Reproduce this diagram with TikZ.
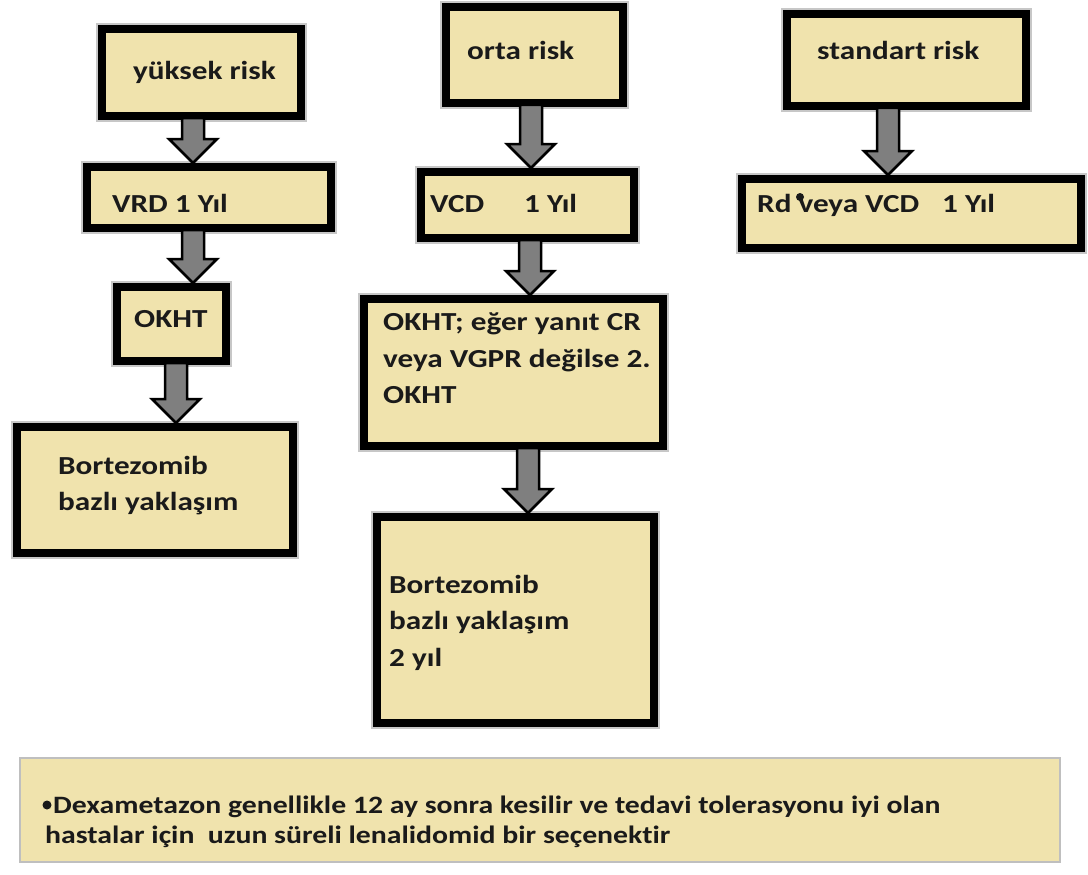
\documentclass[tikz,border=0pt]{standalone}
\usepackage{fontspec}
\usepackage{graphicx}
\setmainfont{Carlito}[Ligatures=NoCommon]
\usetikzlibrary{calc}
\definecolor{boxfill}{HTML}{F0E3AD}
\definecolor{notefill}{HTML}{F0E3AD}
\definecolor{arrowgray}{HTML}{7F7F7F}
\definecolor{txtcol}{HTML}{1A1A1A}
\newcommand{\sxtxt}[1]{\scalebox{1.2}[1]{#1}}
\newcommand{\blockarrow}[3]{%
  \draw[barrow] let \p1=(#1.south -| #3), \p2=(#2.north -| #3) in
    (\x1-11pt,\y1+2pt) -- (\x1+11pt,\y1+2pt) -- (\x1+11pt,\y2+24pt) -- (\x1+24pt,\y2+24pt)
    -- (\x1,\y2) -- (\x1-24pt,\y2+24pt) -- (\x1-11pt,\y2+24pt) -- cycle;}
\tikzset{
  box/.style={draw=black, line width=8pt, fill=boxfill, inner sep=0pt,
    preaction={draw=black!22, line width=12pt}},
  lbl/.style={anchor=base west, inner sep=0pt, text=txtcol,
    font=\bfseries\fontsize{26}{36}\selectfont},
  note/.style={anchor=base west, inner sep=0pt, text=txtcol,
    font=\bfseries\fontsize{25}{30}\selectfont},
  barrow/.style={draw=black, line width=2.5pt, fill=arrowgray, line join=miter},
  notebox/.style={draw=black!25, line width=2pt, fill=notefill, inner sep=0pt},
  dotmark/.style={circle, fill=txtcol, inner sep=0pt, minimum size=8pt}
}
\begin{document}
\begin{tikzpicture}[x=1pt,y=-1pt]
\useasboundingbox (0,0) rectangle (1088,875);
\fill[white] (0,0) rectangle (1088,875);

% left column
\node[box, minimum width=199pt, minimum height=87pt] (b1) at (201.5,72.5) {};
\node[box, minimum width=244pt, minimum height=61pt] (b2) at (209,197.5) {};
\node[box, minimum width=109pt, minimum height=74pt] (b3) at (171.5,324) {};
\node[box, minimum width=276pt, minimum height=126pt] (b4) at (155,490) {};
% middle column
\node[box, minimum width=177pt, minimum height=96pt] (m1) at (534.5,55) {};
\node[box, minimum width=213pt, minimum height=66pt] (m2) at (527.5,205) {};
\node[box, minimum width=299pt, minimum height=147pt] (m3) at (513.5,372.5) {};
\node[box, minimum width=277pt, minimum height=206pt] (m4) at (515.5,620) {};
% right column
\node[box, minimum width=239pt, minimum height=92pt] (r1) at (906.5,60) {};
\node[box, minimum width=339pt, minimum height=69pt] (r2) at (911.5,213.5) {};
% note box
\node[notebox, minimum width=1040pt, minimum height=104pt] (nb) at (540,810) {};

% arrow x positions
\coordinate (xa) at (193,0);
\coordinate (xb) at (176,0);
\coordinate (xm1) at (531,0);
\coordinate (xm2) at (530,0);
\coordinate (xm3) at (528,0);
\coordinate (xr) at (888,0);

\blockarrow{b1}{b2}{xa}
\blockarrow{b2}{b3}{xa}
\blockarrow{b3}{b4}{xb}
\blockarrow{m1}{m2}{xm1}
\blockarrow{m2}{m3}{xm2}
\blockarrow{m3}{m4}{xm3}
\blockarrow{r1}{r2}{xr}

% texts
\node[lbl] (t1) at (133,80) {\sxtxt{yüksek risk}};
\node[lbl] (t2) at (112,212) {\sxtxt{VRD 1 Yıl}};
\node[lbl] (t3) at (134,327) {\sxtxt{OKHT}};
\node[lbl] (t4a) at (58,474) {\sxtxt{Bortezomib}};
\node[lbl] (t4b) at (58,510) {\sxtxt{bazlı yaklaşım}};

\node[lbl] (u1) at (467,60) {\sxtxt{orta risk}};
\node[lbl] (u2a) at (430,212) {\sxtxt{VCD}};
\node[lbl] (u2b) at (524,212) {\sxtxt{1 Yıl}};
\node[lbl] (u3a) at (383,330) {\sxtxt{OKHT; eğer yanıt CR}};
\node[lbl] (u3b) at (383,367) {\sxtxt{veya VGPR değilse 2.}};
\node[lbl] (u3c) at (383,403) {\sxtxt{OKHT}};
\node[lbl] (u4a) at (389,593) {\sxtxt{Bortezomib}};
\node[lbl] (u4b) at (389,629) {\sxtxt{bazlı yaklaşım}};
\node[lbl] (u4c) at (389,666) {\sxtxt{2 yıl}};

\node[lbl] (v1) at (817,60) {\sxtxt{standart risk}};
\node[lbl] (v2a) at (757,212) {\sxtxt{Rd veya VCD}};
\node[lbl] (v2b) at (942,212) {\sxtxt{1 Yıl}};
\node[dotmark] (vdot) at (800,197) {};

\node[dotmark, minimum size=9pt] (bul) at (47,805) {};
\node[note] (n1) at (53,813) {\scalebox{1.19}[1]{Dexametazon genellikle 12 ay sonra kesilir ve tedavi tolerasyonu iyi olan}};
\node[note] (n2) at (45,843) {\scalebox{1.19}[1]{hastalar için\ \ uzun süreli lenalidomid bir seçenektir}};
\end{tikzpicture}
\end{document}
